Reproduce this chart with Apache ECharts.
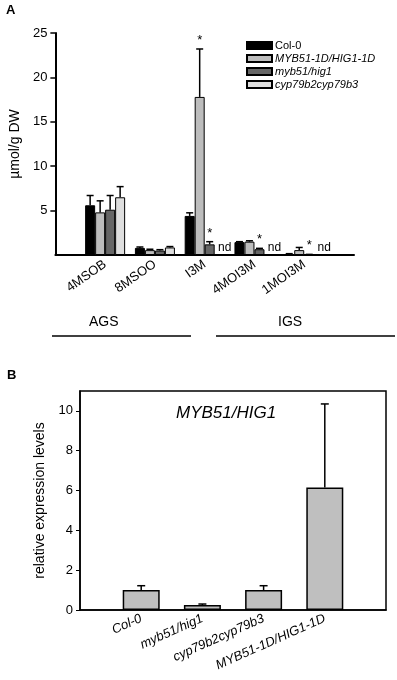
<!DOCTYPE html>
<html>
<head>
<meta charset="utf-8">
<script src="https://cdn.jsdelivr.net/npm/echarts@6/dist/echarts.min.js"></script>
<style>
  html, body { margin: 0; padding: 0; background: #fff; }
  #chart { width: 397px; height: 680px; }
</style>
</head>
<body>
<div id="chart"></div>
<script>
// panel A: glucosinolates
var catsA = ['4MSOB', '8MSOO', 'I3M', '4MOI3M', '1MOI3M'];
var namesA = ['Col-0', 'MYB51-1D/HIG1-1D', 'myb51/hig1', 'cyp79b2cyp79b3'];
var col0 = [5.6, 0.8, 4.4, 1.45, 0.1];
var col0Err = [1.1, 0.1, 0.35, 0.05, 0.05];
var myb1d = [4.8, 0.55, 17.8, 1.5, 0.55];
var myb1dErr = [1.3, 0.1, 5.4, 0.1, 0.3];
var myb51 = [5.1, 0.5, 1.2, 0.65, 0.05];
var myb51Err = [1.6, 0.1, 0.3, 0.1, 0.02];
var cyp = [6.5, 0.85, null, null, null]; // null = nd
var cypErr = [1.2, 0.1, null, null, null];
// significance stars (1 = star)
var starsA = [
  [0, 0, 0, 0, 0],
  [0, 0, 1, 0, 0],
  [0, 0, 1, 1, 1],
  [0, 0, 0, 0, 0]
];
var ticksA = [0, 5, 10, 15, 20, 25];

// panel B: expression
var catsB = ['Col-0', 'myb51/hig1', 'cyp79b2cyp79b3', 'MYB51-1D/HIG1-1D'];
var exprB = [1.0, 0.25, 1.0, 6.15];
var exprErr = [0.22, 0.05, 0.22, 4.2];
var ticksB = [0, 2, 4, 6, 8, 10];

var colorsA = ['#000000', '#bdbdbd', '#666666', '#dedede'];
var FONT = '"Liberation Sans", Arial, sans-serif';
var BW = 10;

var chart = echarts.init(document.getElementById('chart'));

// padded category lists so bars sit on ticks
var axisA = [''].concat(catsA, ['']);
var axisB = [''].concat(catsB, ['']);

function pad(arr) {
  return arr.map(function (v, i) { return [i + 1, v == null ? '-' : v]; });
}

function errSeries(vals, errs, stars, k, n, bw, xi, yi, cap, lw) {
  var data = [];
  vals.forEach(function (v, i) {
    if (v != null) data.push([i + 1, v, errs[i], stars ? stars[i] : 0]);
  });
  return {
    type: 'custom',
    xAxisIndex: xi,
    yAxisIndex: yi,
    silent: true,
    z: 5,
    data: data,
    renderItem: function (params, api) {
      var x = api.value(0), v = api.value(1), e = api.value(2), s = api.value(3);
      var base = api.coord([x, v]);
      var top = api.coord([x, v + e]);
      var cx = base[0] + (k - (n - 1) / 2) * bw;
      var st = { stroke: '#000', lineWidth: lw };
      var ch = [
        { type: 'line', shape: { x1: cx, y1: base[1], x2: cx, y2: top[1] }, style: st },
        { type: 'line', shape: { x1: cx - cap / 2, y1: top[1], x2: cx + cap / 2, y2: top[1] }, style: st }
      ];
      if (s) {
        ch.push({
          type: 'text',
          style: { text: '*', x: cx, y: top[1] - 2, align: 'center', verticalAlign: 'bottom',
            font: '13px ' + FONT, fill: '#000' }
        });
      }
      return { type: 'group', children: ch };
    }
  };
}

var seriesA = [col0, myb1d, myb51, cyp].map(function (vals, k) {
  return {
    name: namesA[k],
    type: 'bar',
    xAxisIndex: 0,
    yAxisIndex: 0,
    barWidth: BW,
    barGap: '0%',
    data: pad(vals),
    itemStyle: { color: colorsA[k], borderColor: '#000', borderWidth: 1 }
  };
});

var errsA = [[col0, col0Err], [myb1d, myb1dErr], [myb51, myb51Err], [cyp, cypErr]].map(function (p, k) {
  return errSeries(p[0], p[1], starsA[k], k, 4, BW, 0, 0, 7, 1.5);
});

// "nd" where cyp79b2cyp79b3 had no value
var ndData = [];
cyp.forEach(function (v, i) { if (v == null) ndData.push([i + 1, 0]); });
var ndSeries = {
  type: 'custom',
  xAxisIndex: 0,
  yAxisIndex: 0,
  silent: true,
  data: ndData,
  renderItem: function (params, api) {
    var p = api.coord([api.value(0), 0]);
    return {
      type: 'text',
      style: { text: 'nd', x: p[0] + 1.5 * BW + 5, y: p[1] - 1, align: 'center', verticalAlign: 'bottom',
        font: '12px ' + FONT, fill: '#000' }
    };
  }
};

var seriesB = {
  name: 'expr',
  type: 'bar',
  xAxisIndex: 1,
  yAxisIndex: 1,
  barWidth: 37,
  data: pad(exprB),
  itemStyle: { color: '#bfbfbf', borderColor: '#000', borderWidth: 1.5 }
};

var option = {
  animation: false,
  backgroundColor: '#fff',
  textStyle: { fontFamily: FONT },
  legend: {
    orient: 'vertical',
    left: 241,
    top: 34,
    icon: 'rect',
    itemWidth: 25,
    itemHeight: 7,
    itemGap: 0,
    textStyle: { fontSize: 11, color: '#000', lineHeight: 13, padding: [0, 0, 0, -2] },
    data: namesA.map(function (n, i) {
      return i === 0 ? { name: n } : { name: n, textStyle: { fontStyle: 'italic' } };
    })
  },
  grid: [
    { left: 45, top: 33, width: 309, height: 222 },
    { left: 80, top: 391, width: 306, height: 219, show: true, borderColor: '#000', borderWidth: 1.5 }
  ],
  xAxis: [
    {
      type: 'category', gridIndex: 0, data: axisA, boundaryGap: false,
      axisLine: { lineStyle: { color: '#000', width: 2 } },
      axisTick: { show: false },
      axisLabel: { rotate: 35, fontSize: 13, color: '#000', margin: 8, interval: 0 }
    },
    {
      type: 'category', gridIndex: 1, data: axisB, boundaryGap: false,
      axisLine: { lineStyle: { color: '#000', width: 1.5 } },
      axisTick: { show: false },
      axisLabel: { rotate: 24, fontSize: 13, fontStyle: 'italic', color: '#000', margin: 8, interval: 0 }
    }
  ],
  yAxis: [
    {
      type: 'value', gridIndex: 0, min: ticksA[0], max: ticksA[ticksA.length - 1], interval: 5,
      name: 'µmol/g DW', nameLocation: 'middle', nameGap: 24,
      nameTextStyle: { fontSize: 14, color: '#000' },
      splitLine: { show: false },
      axisLine: { show: true, lineStyle: { color: '#000', width: 2 } },
      axisTick: { show: true, length: 5, lineStyle: { color: '#000', width: 1.5 } },
      axisLabel: { fontSize: 13, color: '#000', margin: 8, showMinLabel: false }
    },
    {
      type: 'value', gridIndex: 1, min: ticksB[0], max: 11, interval: 2,
      name: 'relative expression levels', nameLocation: 'middle', nameGap: 27,
      nameTextStyle: { fontSize: 14, color: '#000' },
      splitLine: { show: false },
      axisLine: { show: true, lineStyle: { color: '#000', width: 1.5 } },
      axisTick: { show: true, length: 4, lineStyle: { color: '#000', width: 1 } },
      axisLabel: { fontSize: 13, color: '#000', margin: 7, showMaxLabel: false }
    }
  ],
  graphic: [
    { type: 'text', left: 6, top: 4, style: { text: 'A', font: 'bold 13px ' + FONT, fill: '#000' } },
    { type: 'text', left: 7, top: 369, style: { text: 'B', font: 'bold 13px ' + FONT, fill: '#000' } },
    { type: 'text', left: 89, top: 315, style: { text: 'AGS', font: '14px ' + FONT, fill: '#000' } },
    { type: 'text', left: 278, top: 315, style: { text: 'IGS', font: '14px ' + FONT, fill: '#000' } },
    { type: 'line', shape: { x1: 52, y1: 336, x2: 191, y2: 336 }, style: { stroke: '#000', lineWidth: 1.5 } },
    { type: 'line', shape: { x1: 216, y1: 336, x2: 395, y2: 336 }, style: { stroke: '#000', lineWidth: 1.5 } },
    { type: 'text', left: 176, top: 405, style: { text: 'MYB51/HIG1', font: 'italic 17px ' + FONT, fill: '#000' } }
  ],
  series: seriesA.concat(errsA, [ndSeries, seriesB,
    errSeries(exprB, exprErr, null, 0, 1, 0, 1, 1, 8, 1.5)])
};

chart.setOption(option);
</script>
</body>
</html>
